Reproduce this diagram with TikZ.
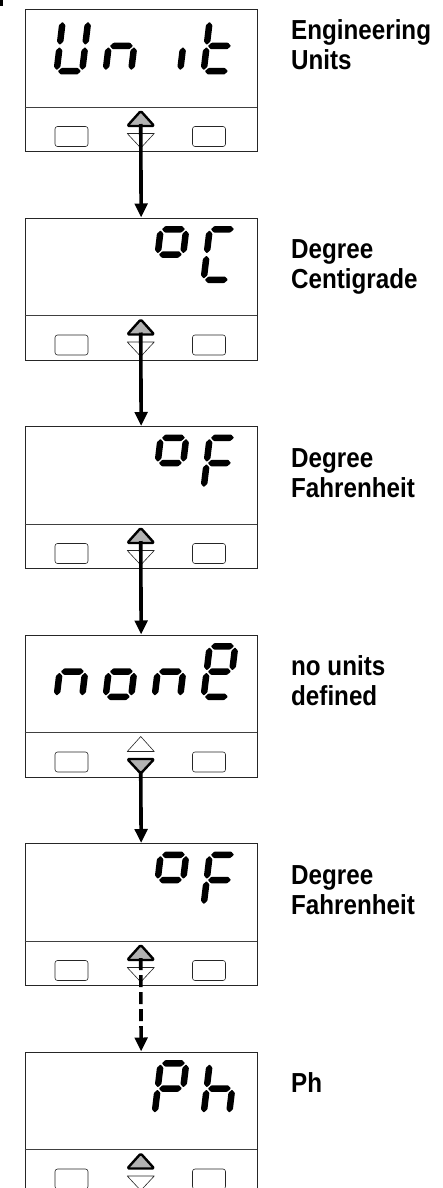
\documentclass[tikz,border=0pt]{standalone}
\usepackage{fontspec}
\newfontfamily\lblfont[FakeStretch=0.88]{Liberation Sans}
\usetikzlibrary{arrows.meta}
\tikzset{
  panel/.style={draw=black!85, line width=0.8pt, minimum width=232.5pt, minimum height=142pt, inner sep=0pt, anchor=north west},
  divline/.style={draw=black!75, line width=0.7pt},
  btn/.style={draw=black!85, line width=0.6pt, rounded corners=2.5pt, minimum width=33pt, minimum height=20pt, inner sep=0pt},
  hitri/.style={draw=black, fill=black!30, line width=2.4pt, rounded corners=1.5pt, line join=round},
  plaintri/.style={draw=black!85, fill=white, line width=0.6pt, line join=round},
  lbl/.style={font=\lblfont\bfseries\fontsize{27.5}{30}\selectfont, align=left, anchor=base west, inner sep=0pt},
  flow/.style={line width=3.6pt, -{Triangle[length=14pt,width=12.5pt]}},
  dflow/.style={flow, dash pattern=on 12pt off 5pt},
  seg/.style={fill=black, rounded corners=0.7pt},
}
\newcommand\sga{\fill[seg] (4.45,53.75) -- (7.7,57) -- (24.3,57) -- (27.55,53.75) -- (24.3,50.5) -- (7.7,50.5) -- cycle;}
\newcommand\sgg{\fill[seg] (4.45,28.5) -- (7.7,31.75) -- (24.3,31.75) -- (27.55,28.5) -- (24.3,25.25) -- (7.7,25.25) -- cycle;}
\newcommand\sgd{\fill[seg] (4.45,3.25) -- (7.7,6.5) -- (24.3,6.5) -- (27.55,3.25) -- (24.3,0) -- (7.7,0) -- cycle;}
\newcommand\sgf{\fill[seg] (3.25,29.7) -- (6.5,32.95) -- (6.5,49.3) -- (3.25,52.55) -- (0,49.3) -- (0,32.95) -- cycle;}
\newcommand\sgb{\fill[seg] (28.75,29.7) -- (32,32.95) -- (32,49.3) -- (28.75,52.55) -- (25.5,49.3) -- (25.5,32.95) -- cycle;}
\newcommand\sge{\fill[seg] (3.25,4.45) -- (6.5,7.7) -- (6.5,24.05) -- (3.25,27.3) -- (0,24.05) -- (0,7.7) -- cycle;}
\newcommand\sgc{\fill[seg] (28.75,4.45) -- (32,7.7) -- (32,24.05) -- (28.75,27.3) -- (25.5,24.05) -- (25.5,7.7) -- cycle;}
\newcommand\sevenseg[3]{\begin{scope}[shift={(#1,-#2)},xslant=0.12]\foreach \s in {#3}{\csname sg\s\endcsname}\end{scope}}
\newcommand\mkpanel[4]{%
  \node[panel] (p#1) at (24.5,-#2) {};
  \draw[divline] (24.5,-#2-98) -- (257,-#2-98);
  \node[btn] (lb#1) at (71.5,-#2-127.5) {};
  \node[btn] (rb#1) at (209,-#2-127.5) {};
  \draw[#3] (140.75,-#2-102) -- (154.25,-#2-117) -- (127.25,-#2-117) -- cycle;
  \draw[#4] (127.25,-#2-124.5) -- (154.25,-#2-124.5) -- (140.75,-#2-139) -- cycle;
  \coordinate (up#1) at (140.75,-#2-115);
  \coordinate (dn#1) at (140.75,-#2-138);
}
\begin{document}
\begin{tikzpicture}[x=1pt,y=1pt]
\useasboundingbox (0,0) rectangle (442,-1188);
\clip (0,0) rectangle (442,-1188);
\fill[black] (0,0) rectangle (2.5,-6.5);
% panels
\mkpanel{1}{9}{hitri}{plaintri}
\mkpanel{2}{217.5}{hitri}{plaintri}
\mkpanel{3}{426}{hitri}{plaintri}
\mkpanel{4}{634.5}{plaintri}{hitri}
\mkpanel{5}{843}{hitri}{plaintri}
\mkpanel{6}{1051.5}{hitri}{plaintri}
% displays
\sevenseg{53}{74.5}{b,c,d,e,f}
\sevenseg{102}{74.5}{c,e,g}
\sevenseg{151}{74.5}{c}
\sevenseg{200}{74.5}{d,e,f,g}
\sevenseg{151}{283}{a,b,f,g}
\sevenseg{200}{283}{a,d,e,f}
\sevenseg{151}{491.5}{a,b,f,g}
\sevenseg{200}{491.5}{a,e,f,g}
\sevenseg{53}{700}{c,e,g}
\sevenseg{102}{700}{c,d,e,g}
\sevenseg{151}{700}{c,e,g}
\sevenseg{200}{700}{a,b,d,e,f,g}
\sevenseg{151}{908.5}{a,b,f,g}
\sevenseg{200}{908.5}{a,e,f,g}
\sevenseg{151}{1117}{a,b,e,f,g}
\sevenseg{200}{1117}{c,e,f,g}
% labels (anchor = baseline of last line)
\node[lbl] (l1) at (291,-69.5) {Engineering\\Units};
\node[lbl] (l2) at (291,-288) {Degree\\Centigrade};
\node[lbl] (l3) at (291,-497) {Degree\\Fahrenheit};
\node[lbl] (l4) at (291,-705) {no units\\defined};
\node[lbl] (l5) at (291,-914) {Degree\\Fahrenheit};
\node[lbl] (l6) at (291,-1092) {Ph};
% connectors
\draw[flow] (up1) -- (p2.north);
\draw[flow] (up2) -- (p3.north);
\draw[flow] (up3) -- (p4.north);
\draw[flow] (dn4) -- (p5.north);
\draw[dflow] (up5) -- (p6.north);
\end{tikzpicture}
\end{document}
